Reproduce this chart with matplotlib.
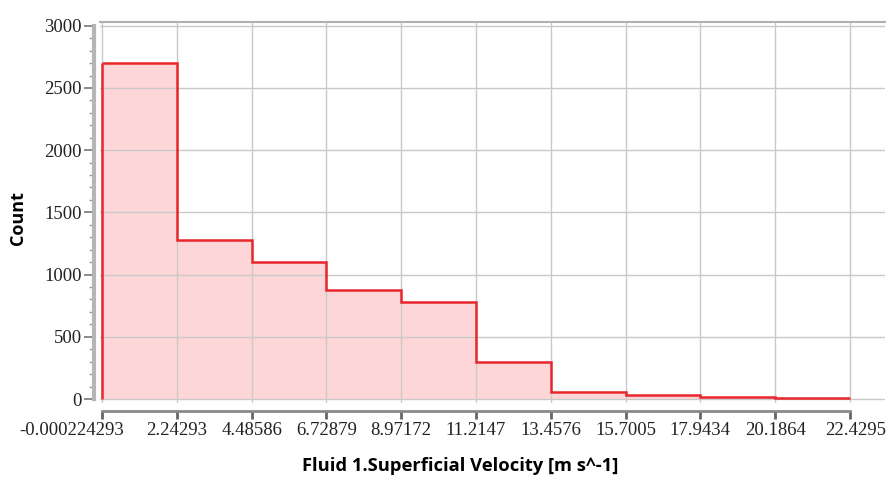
import matplotlib
matplotlib.use("Agg")
import matplotlib.pyplot as plt
import matplotlib.transforms as mtransforms
import numpy as np

# bin edges (as labelled on the axis) and counts per bin
edge_labels = ["-0.000224293", "2.24293", "4.48586", "6.72879", "8.97172", "11.2147",
               "13.4576", "15.7005", "17.9434", "20.1864", "22.4295"]
edges = np.array([float(s) for s in edge_labels])
counts = np.array([2700, 1280, 1100, 876, 782, 295, 56, 32, 18, 6])
yticks = [0, 500, 1000, 1500, 2000, 2500, 3000]

red = "#e8262c"
pink = "#ffd6d8"
grid = "#c9c9c9"

fig = plt.figure(figsize=(8.96, 4.82), dpi=100)
W, H = 896, 482
x0, x1, y0, y1 = 100, 885, 22, 403
ax = fig.add_axes([x0 / W, 1 - y1 / H, (x1 - x0) / W, (y1 - y0) / H])

ax.set_xlim(-0.06, 23.48)
ax.set_ylim(-32, 3030)

# histogram: filled area, step outline, left edge
ax.stairs(counts, edges, fill=True, color=pink, zorder=1)
ax.stairs(counts, edges, baseline=None, color=red, linewidth=1.8, zorder=3)
ax.vlines(edges[0], 0, counts[0], color=red, linewidth=1.8, zorder=3)

# gridlines
for yv in yticks:
    ax.axhline(yv, color=grid, linewidth=1.0, zorder=2)
for xv in edges:
    ax.axvline(xv, color=grid, linewidth=1.0, zorder=2)

# spines
ax.spines["right"].set_visible(False)
ax.spines["top"].set_color("#b0b0b0")
ax.spines["top"].set_linewidth(1.5)
ax.spines["left"].set_position(("outward", 4))
ax.spines["left"].set_bounds(0, 3000)
ax.spines["left"].set_color("#b5b5b5")
ax.spines["left"].set_linewidth(3)
ax.spines["bottom"].set_position(("outward", 6))
ax.spines["bottom"].set_bounds(edges[0], edges[-1])
ax.spines["bottom"].set_color("#8a8a8a")
ax.spines["bottom"].set_linewidth(2.0)

ax.set_yticks(yticks)
ax.set_yticks(np.arange(0, 3001, 100), minor=True)
ax.set_xticks(edges)
ax.set_xticklabels(edge_labels)
ax.tick_params(axis="y", which="major", length=7, width=1.2, color="#777777",
               labelsize=13.5, pad=2)
ax.tick_params(axis="y", which="minor", length=3.5, width=1.0, color="#999999")
ax.tick_params(axis="x", which="major", length=6, width=2.0, color="#666666",
               labelsize=13.5, pad=2)
for lab in ax.get_xticklabels() + ax.get_yticklabels():
    lab.set_fontfamily("Liberation Serif")
    lab.set_color("#222222")

# first and last x labels are nudged so they do not collide
xlabs = ax.get_xticklabels()
xlabs[0].set_transform(xlabs[0].get_transform() +
                       mtransforms.ScaledTranslation(-30 / 100, 0, fig.dpi_scale_trans))
xlabs[-1].set_transform(xlabs[-1].get_transform() +
                        mtransforms.ScaledTranslation(6 / 100, 0, fig.dpi_scale_trans))

fig.text(18 / W, 1 - 218 / H, "Count", rotation=90, ha="center", va="center",
         fontsize=13, fontweight="bold", family="Open Sans")
fig.text(460 / W, 1 - 466 / H, "Fluid 1.Superficial Velocity [m s^-1]", ha="center",
         va="center", fontsize=13.2, fontweight="bold", family="Open Sans")

fig.savefig("out.png", dpi=100)
